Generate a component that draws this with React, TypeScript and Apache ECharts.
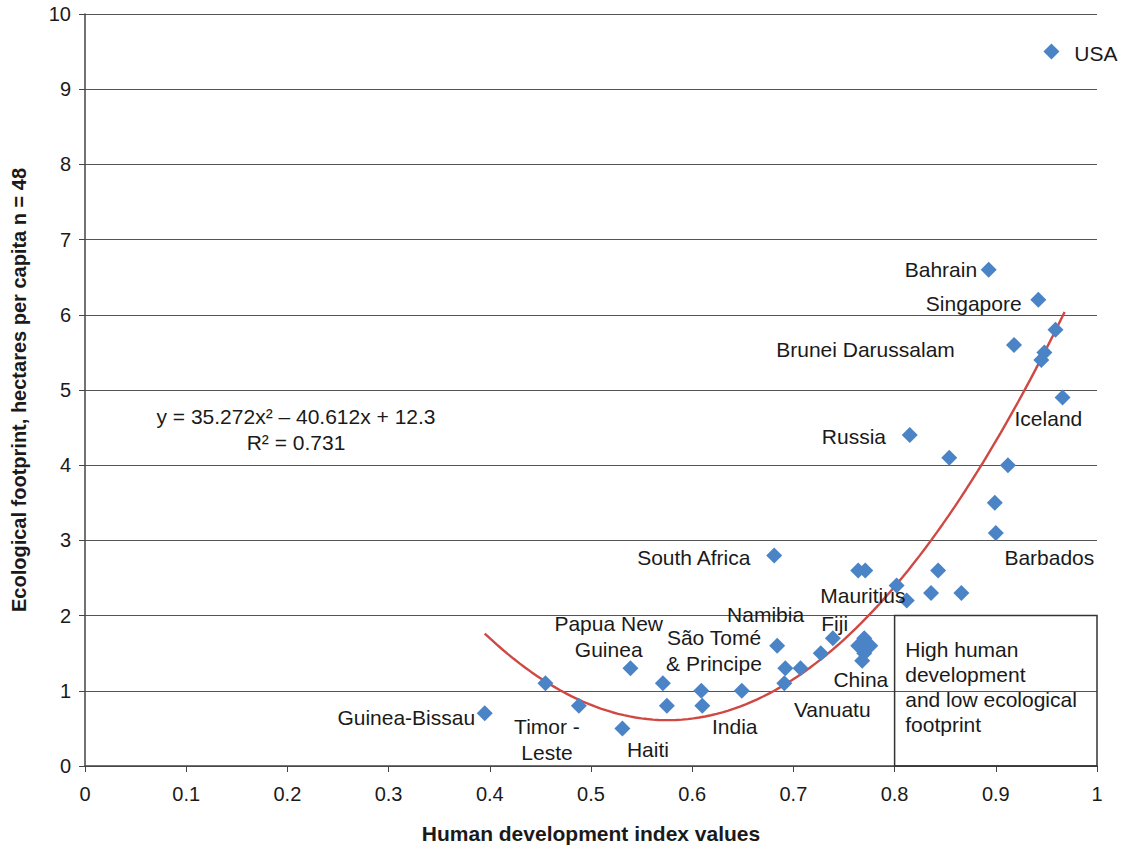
import React, { useEffect, useRef } from "react";
import * as echarts from "echarts";

// HDI (x) and ecological footprint (y) per country
const hdi = [0.955, 0.893, 0.942, 0.959, 0.918, 0.948, 0.945, 0.966, 0.815, 0.854, 0.912, 0.899, 0.9, 0.681, 0.764, 0.771, 0.843, 0.802, 0.812, 0.836, 0.866, 0.684, 0.739, 0.727, 0.692, 0.707, 0.691, 0.77, 0.764, 0.776, 0.77, 0.768, 0.571, 0.575, 0.609, 0.61, 0.649, 0.395, 0.455, 0.488, 0.531, 0.539];
const footprint = [9.5, 6.6, 6.2, 5.8, 5.6, 5.5, 5.4, 4.9, 4.4, 4.1, 4.0, 3.5, 3.1, 2.8, 2.6, 2.6, 2.6, 2.4, 2.2, 2.3, 2.3, 1.6, 1.7, 1.5, 1.3, 1.3, 1.1, 1.7, 1.6, 1.6, 1.5, 1.4, 1.1, 0.8, 1.0, 0.8, 1.0, 0.7, 1.1, 0.8, 0.5, 1.3];

// Polynomial trendline: y = a x^2 + b x + c
const trendCoef = [35.272, -40.612, 12.3];
const trendRange = [0.395, 0.968];
const equationText = "y = 35.272x² – 40.612x + 12.3\nR² = 0.731";

// Box region (x from, x to, y from, y to)
const boxX = [0.8, 1.0];
const boxY = [0, 2];

// Text annotations anchored in data coordinates
const annText = ["USA", "Bahrain", "Singapore", "Brunei Darussalam", "Iceland", "Russia", "Barbados", "South Africa", "Mauritius", "Fiji", "Namibia", "Papua New\nGuinea", "São Tomé\n& Principe", "China", "Vanuatu", "India", "Haiti", "Timor -\nLeste", "Guinea-Bissau", "High human\ndevelopment\nand low ecological\nfootprint", equationText];
const annX = [0.978, 0.882, 0.926, 0.86, 0.919, 0.792, 0.909, 0.658, 0.727, 0.728, 0.635, 0.518, 0.622, 0.74, 0.701, 0.62, 0.536, 0.457, 0.386, 0.811, 0.209];
const annY = [9.47, 6.6, 6.14, 5.53, 4.61, 4.38, 2.77, 2.77, 2.26, 1.89, 2.01, 1.72, 1.53, 1.14, 0.74, 0.52, 0.21, 0.35, 0.64, 1.04, 4.47];
const annAlign = ["left", "right", "right", "right", "left", "right", "left", "right", "left", "left", "left", "center", "center", "left", "left", "left", "left", "center", "right", "left", "center"];

const xTicks = { min: 0, max: 1, interval: 0.1 };
const yTicks = { min: 0, max: 10, interval: 1 };

const FONT = "Arial, 'Liberation Sans', sans-serif";
const TEXT = "#1a1a1a";

export default function App() {
  const ref = useRef<HTMLDivElement>(null);
  useEffect(() => {
    if (!ref.current) return;
    const chart = echarts.init(ref.current, undefined, { renderer: "svg" });

    const trend: number[][] = [];
    for (let i = 0; i <= 100; i++) {
      const x = trendRange[0] + ((trendRange[1] - trendRange[0]) * i) / 100;
      trend.push([x, trendCoef[0] * x * x + trendCoef[1] * x + trendCoef[2]]);
    }

    const points = hdi.map((x, i) => [x, footprint[i]]);
    const ann = annText.map((t, i) => ({
      value: [annX[i], annY[i]],
      label: {
        show: true,
        formatter: t,
        position: [0, 0],
        align: annAlign[i],
        verticalAlign: "middle",
        fontSize: 21,
        fontFamily: FONT,
        color: TEXT,
        opacity: 1,
        lineHeight: i === 19 ? 25 : 26,
      },
    }));

    chart.setOption({
      animation: false,
      backgroundColor: "#ffffff",
      grid: { left: 85, right: 25, top: 14, bottom: 83, containLabel: false },
      xAxis: {
        type: "value",
        min: xTicks.min,
        max: xTicks.max,
        interval: xTicks.interval,
        name: "Human development index values",
        nameLocation: "middle",
        nameGap: 57,
        nameTextStyle: { fontSize: 21, fontWeight: "bold", fontFamily: FONT, color: TEXT },
        axisLine: { show: true, onZero: false, lineStyle: { color: "#444", width: 1.5 } },
        axisTick: { show: true, length: 6, lineStyle: { color: "#444" } },
        axisLabel: { fontSize: 20, fontFamily: FONT, color: TEXT, margin: 18 },
        splitLine: { show: false },
      },
      yAxis: {
        type: "value",
        min: yTicks.min,
        max: yTicks.max,
        interval: yTicks.interval,
        name: "Ecological footprint, hectares per capita n = 48",
        nameLocation: "middle",
        nameGap: 56,
        nameTextStyle: { fontSize: 20, fontWeight: "bold", fontFamily: FONT, color: TEXT },
        axisLine: { show: true, onZero: false, lineStyle: { color: "#444", width: 1.5 } },
        axisTick: { show: true, length: 6, lineStyle: { color: "#444" } },
        axisLabel: { fontSize: 20, fontFamily: FONT, color: TEXT, margin: 14 },
        splitLine: { show: true, lineStyle: { color: "#555", width: 1 } },
      },
      series: [
        {
          type: "line",
          data: [],
          silent: true,
          markArea: {
            silent: true,
            itemStyle: { color: "rgba(0,0,0,0)", borderColor: "#333", borderWidth: 1.5 },
            data: [[{ coord: [boxX[0], boxY[0]] }, { coord: [boxX[1], boxY[1]] }]],
          },
        },
        {
          type: "line",
          data: trend,
          showSymbol: false,
          smooth: false,
          lineStyle: { color: "#cf4843", width: 2.4 },
          z: 3,
        },
        {
          type: "scatter",
          data: points,
          symbol: "diamond",
          symbolSize: 16,
          itemStyle: { color: "#4a84c6", opacity: 1 },
          z: 4,
        },
        {
          type: "scatter",
          data: ann,
          symbolSize: 1,
          itemStyle: { color: "rgba(0,0,0,0)", opacity: 1 },
          silent: true,
          z: 5,
        },
      ],
    });
    return () => chart.dispose();
  }, []);

  return (
    <div
      ref={ref}
      style={{ position: "absolute", left: 0, top: 0, width: 1122, height: 849, background: "#fff" }}
    />
  );
}
